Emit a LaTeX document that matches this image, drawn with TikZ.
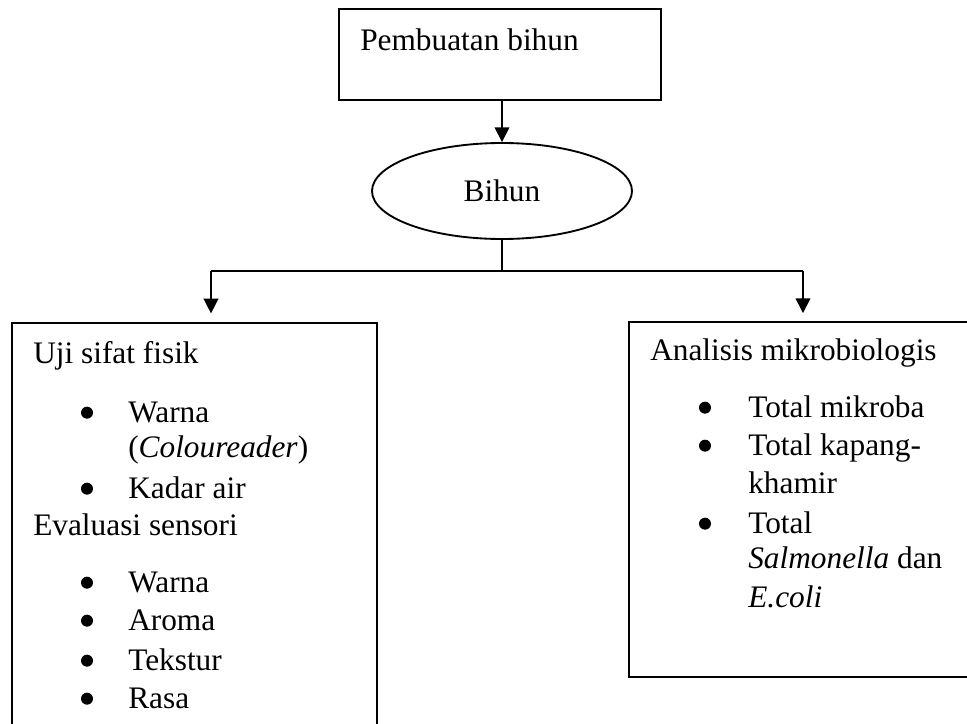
\documentclass[tikz,border=0pt]{standalone}
\usepackage{fontspec}
\setmainfont{Liberation Serif}
\usetikzlibrary{positioning,shapes.geometric,arrows.meta}

\begin{document}
\begin{tikzpicture}[x=0.75pt, y=-0.75pt,
box/.style ={draw, line width=1.4pt, inner sep=0pt},
txt/.style ={anchor=base west, inner sep=0pt, font=\fontsize{23.5}{28}\selectfont},
bul/.style ={circle, fill, inner sep=0pt, minimum size=9pt, yshift=7pt},
arr/.style ={-{Triangle[length=11pt,width=11pt]}, line width=1.1pt}]
\clip (0,0) rectangle (967,724);
\fill[white] (0,0) rectangle (967,724);
% kotak dan elips
\node[box, minimum width=241.5pt, minimum height=68.25pt] (proses) at (500,54.5) {};
\node[box, ellipse, minimum width=195pt, minimum height=72pt, font=\fontsize{23.5}{28}\selectfont] (bihun) at (502,191) {Bihun};
\node[box, minimum width=273.75pt, minimum height=342.75pt] (fisik) at (194.5,551.5) {};
\node[box, minimum width=261pt, minimum height=266.25pt] (mikro) at (803,499.5) {};
\node[txt] (judul) at (360,51) {Pembuatan bihun};
% isi kotak kiri
\node[txt] (uji) at (33,363) {Uji sifat fisik};
\node[txt] (eval) at (33,535) {Evaluasi sensori};
\node[txt] (cr) at (128,457) {(\textit{Coloureader})};
\foreach \t/\y [count=\i] in {Warna/422, Kadar air/498, Warna/592, Aroma/630, Tekstur/670, Rasa/708}
{
  \node[bul] (bk\i) at (87,\y) {};
  \node[txt] (tk\i) at (128,\y) {\t};
}
% isi kotak kanan
\node[txt] (analisis) at (650,360) {Analisis mikrobiologis};
\foreach \y [count=\i] in {417, 455, 533}
  \node[bul] (bm\i) at (705,\y) {};
\node[txt] (m1) at (748,417) {Total mikroba};
\node[txt] (m2) at (748,455) {Total kapang-};
\node[txt] (m3) at (748,493) {khamir};
\node[txt] (m4) at (748,533) {Total};
\node[txt] (m5) at (748,568) {\textit{Salmonella} dan};
\node[txt] (m6) at (748,607) {\textit{E.coli}};
% panah
\coordinate (kiri) at (211,271);
\coordinate (kanan) at (803,271);
\draw[arr] (bihun.north |- proses.south) -- (bihun.north);
\draw[line width=1.1pt] (bihun.south) -- (bihun.south |- kiri);
\draw[line width=1.1pt] (kiri) -- (kanan);
\draw[arr, shorten >=6.5pt] (kiri) -- (kiri |- fisik.north);
\draw[arr, shorten >=6pt] (kanan) -- (kanan |- mikro.north);
\end{tikzpicture}
\end{document}
